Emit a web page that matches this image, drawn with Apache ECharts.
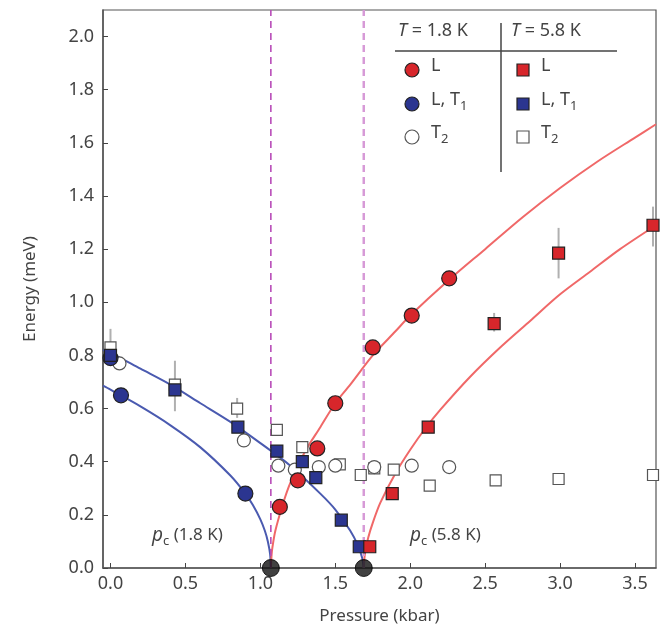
<!DOCTYPE html>
<html>
<head>
<meta charset="utf-8">
<script src="https://cdn.jsdelivr.net/npm/echarts@6/dist/echarts.min.js"></script>
<style>
html,body{margin:0;padding:0;background:#fff;}
#c{width:671px;height:636px;}
</style>
</head>
<body>
<div id="c"></div>
<script>
// ---- data (pressure kbar, energy meV) ----
const pressureTicks = [0.0, 0.5, 1.0, 1.5, 2.0, 2.5, 3.0, 3.5];
const energyTicks = [0.0, 0.2, 0.4, 0.6, 0.8, 1.0, 1.2, 1.4, 1.6, 1.8, 2.0];
const criticalPressures = [1.07, 1.69];

// T = 1.8 K
const circL = [[1.13, 0.23], [1.25, 0.33], [1.38, 0.45], [1.50, 0.62], [1.75, 0.83], [2.01, 0.95], [2.26, 1.09]];
const circLT1 = [[0.00, 0.79], [0.07, 0.65], [0.90, 0.28]];
const circT2 = [[0.06, 0.77], [0.89, 0.48], [1.12, 0.385], [1.23, 0.37], [1.39, 0.38], [1.50, 0.385], [1.76, 0.38], [2.01, 0.385], [2.26, 0.38]];

// T = 5.8 K
const sqL = [[1.73, 0.08], [1.88, 0.28], [2.12, 0.53], [2.56, 0.92], [2.99, 1.185], [3.62, 1.29]];
const sqLT1 = [[0.00, 0.80], [0.43, 0.67], [0.85, 0.53], [1.11, 0.44], [1.28, 0.40], [1.37, 0.34], [1.54, 0.18], [1.66, 0.08]];
const sqT2 = [[0.00, 0.83], [0.43, 0.69], [0.845, 0.60], [1.11, 0.52], [1.28, 0.455], [1.53, 0.39], [1.67, 0.35], [1.76, 0.375], [1.89, 0.37], [2.13, 0.31], [2.57, 0.33], [2.99, 0.335], [3.62, 0.35]];

// error bars: [pressure, low, high]
const errorBars = [[0.00, 0.80, 0.90], [0.43, 0.59, 0.78], [0.845, 0.565, 0.64], [2.56, 0.89, 0.96], [2.99, 1.09, 1.28], [3.62, 1.21, 1.36]];

// fitted curves
const blueUpperCurve = [[-0.05, 0.82], [0.0, 0.81], [0.2, 0.75], [0.4, 0.69], [0.6, 0.62], [0.8, 0.55], [1.0, 0.47], [1.2, 0.385], [1.4, 0.28], [1.5, 0.22], [1.6, 0.14], [1.65, 0.086], [1.68, 0.037], [1.69, 0.0]];
const blueLowerCurve = [[-0.05, 0.686], [0.0, 0.671], [0.2, 0.608], [0.4, 0.537], [0.6, 0.454], [0.8, 0.348], [0.9, 0.28], [0.95, 0.237], [1.0, 0.183], [1.03, 0.14], [1.05, 0.10], [1.065, 0.052], [1.07, 0.0]];
const redCurve18 = [[1.07, 0.0], [1.075, 0.05], [1.08, 0.076], [1.1, 0.14], [1.15, 0.24], [1.2, 0.32], [1.3, 0.44], [1.4, 0.53], [1.5, 0.62], [1.6, 0.69], [1.75, 0.80], [1.9, 0.89], [2.0, 0.95], [2.25, 1.08], [2.5, 1.20], [2.75, 1.32], [3.0, 1.43], [3.25, 1.53], [3.5, 1.62], [3.64, 1.67]];
const redCurve58 = [[1.69, 0.0], [1.695, 0.04], [1.70, 0.06], [1.72, 0.115], [1.75, 0.17], [1.8, 0.245], [1.9, 0.355], [2.0, 0.445], [2.1, 0.525], [2.2, 0.595], [2.4, 0.72], [2.6, 0.83], [2.8, 0.93], [3.0, 1.03], [3.2, 1.115], [3.4, 1.20], [3.64, 1.29]];

const FONT = 'Noto Sans';
const TXT = '#444';
const RED = '#d7262b', BLUE = '#2b3590', EDGE = '#222';

const chart = echarts.init(document.getElementById('c'), null, {renderer: 'canvas'});

function vline(p, color, width) {
  return {
    type: 'line', data: [[p, 0], [p, 2.1]], symbol: 'none', silent: true, z: 3,
    lineStyle: {color: color, width: width, type: [7, 5]}
  };
}
function curve(data, color) {
  return {type: 'line', data: data, symbol: 'none', smooth: 0.3, silent: true, z: 2,
    lineStyle: {color: color, width: 2}, clip: true};
}
function scatter(data, symbol, size, fill, border) {
  return {type: 'scatter', data: data, symbol: symbol, symbolSize: size, z: 5, clip: false,
    itemStyle: {color: fill, borderColor: border, borderWidth: 1.2, opacity: 1}};
}

const sub = {fontSize: 13, verticalAlign: 'bottom', padding: [12, 0, 0, 0], fontFamily: FONT, fill: TXT};

const legendGraphics = [];
function legText(x, y, rich, txt) {
  legendGraphics.push({type: 'text', left: x, top: y, z: 100,
    style: {text: txt, fontFamily: FONT, fontSize: 18, fill: TXT, rich: rich}});
}
const italic = {i: {fontStyle: 'italic', fontFamily: FONT, fontSize: 18, fill: TXT}};
// header
legendGraphics.push({type: 'text', left: 398, top: 22, z: 100,
  style: {text: '{i|T} = 1.8 K', fontFamily: FONT, fontSize: 18, fill: TXT, rich: italic}});
legendGraphics.push({type: 'text', left: 511, top: 22, z: 100,
  style: {text: '{i|T} = 5.8 K', fontFamily: FONT, fontSize: 18, fill: TXT, rich: italic}});
legendGraphics.push({type: 'line', z: 100, shape: {x1: 395, y1: 51, x2: 617, y2: 51}, style: {stroke: '#444', lineWidth: 1.5}});
legendGraphics.push({type: 'line', z: 100, shape: {x1: 501, y1: 23, x2: 501, y2: 172}, style: {stroke: '#444', lineWidth: 1.5}});
const rowsY = [70, 104, 137];
const circFills = [RED, BLUE, '#fff'];
const circBorders = [EDGE, EDGE, '#555'];
const rowTexts = ['L', 'L, T{s|1}', 'T{s|2}'];
rowsY.forEach((y, i) => {
  legendGraphics.push({type: 'circle', z: 100, shape: {cx: 412, cy: y, r: 7}, style: {fill: circFills[i], stroke: circBorders[i], lineWidth: 1.2}});
  legendGraphics.push({type: 'rect', z: 100, shape: {x: 517, y: y - 6, width: 12, height: 12}, style: {fill: circFills[i], stroke: circBorders[i], lineWidth: 1.2}});
  legText(431, y - 13, {s: sub}, rowTexts[i]);
  legText(541, y - 13, {s: sub}, rowTexts[i]);
});
// p_c annotations
const pcRich = {p: {fontStyle: 'italic', fontFamily: FONT, fontSize: 19, fill: TXT}, s: sub};
legendGraphics.push({type: 'text', left: 152, top: 526, z: 100,
  style: {text: '{p|p}{s|c} (1.8 K)', fontFamily: FONT, fontSize: 17, fill: TXT, rich: pcRich}});
legendGraphics.push({type: 'text', left: 410, top: 526, z: 100,
  style: {text: '{p|p}{s|c} (5.8 K)', fontFamily: FONT, fontSize: 17, fill: TXT, rich: pcRich}});

const option = {
  backgroundColor: '#fff',
  animation: false,
  grid: {left: 103, right: 15, top: 10, bottom: 68, show: true, borderColor: '#555', borderWidth: 1.2, backgroundColor: 'transparent'},
  xAxis: {
    type: 'value', min: -0.05, max: 3.64,
    name: 'Pressure (kbar)', nameLocation: 'middle', nameGap: 40,
    nameTextStyle: {fontFamily: FONT, fontSize: 17, color: TXT},
    axisLine: {onZero: false, lineStyle: {color: '#555', width: 1.5}},
    axisTick: {inside: true, length: 5, customValues: pressureTicks, lineStyle: {color: '#444'}},
    axisLabel: {customValues: pressureTicks, formatter: v => v.toFixed(1), fontFamily: FONT, fontSize: 18, color: TXT, margin: 7},
    splitLine: {show: false}
  },
  yAxis: {
    type: 'value', min: 0, max: 2.1,
    name: 'Energy (meV)', nameLocation: 'middle', nameGap: 64,
    nameTextStyle: {fontFamily: FONT, fontSize: 17, color: TXT},
    axisLine: {show: true, onZero: false, lineStyle: {color: '#555', width: 1.5}},
    axisTick: {show: true, inside: true, length: 5, customValues: energyTicks, lineStyle: {color: '#444'}},
    axisLabel: {customValues: energyTicks, formatter: v => v.toFixed(1), fontFamily: FONT, fontSize: 18, color: TXT, margin: 9},
    splitLine: {show: false}
  },
  graphic: legendGraphics,
  series: [
    curve(blueUpperCurve, '#4a5ab0'),
    curve(blueLowerCurve, '#4a5ab0'),
    curve(redCurve18, '#f06868'),
    curve(redCurve58, '#f06868'),
    vline(criticalPressures[0], '#b84cb8', 1.6),
    vline(criticalPressures[1], '#d79ad7', 2.5),
    {
      type: 'custom', data: errorBars, z: 4, silent: true,
      renderItem: function (params, api) {
        const a = api.coord([api.value(0), api.value(1)]);
        const b = api.coord([api.value(0), api.value(2)]);
        return {type: 'line', shape: {x1: a[0], y1: a[1], x2: b[0], y2: b[1]}, style: {stroke: '#b0b0b0', lineWidth: 2}};
      }
    },
    scatter(sqT2, 'rect', 11, '#fff', '#555'),
    scatter(circT2, 'circle', 13, '#fff', '#555'),
    scatter(circLT1, 'circle', 15, BLUE, EDGE),
    scatter(sqLT1, 'rect', 12, BLUE, EDGE),
    scatter(circL, 'circle', 15, RED, EDGE),
    scatter(sqL, 'rect', 12, RED, EDGE),
    {type: 'scatter', data: criticalPressures.map(p => [p, 0]), symbol: 'circle', symbolSize: 17, z: 6, clip: false,
      itemStyle: {color: '#111', borderColor: '#000', borderWidth: 1}}
  ]
};
chart.setOption(option);
</script>
</body>
</html>
